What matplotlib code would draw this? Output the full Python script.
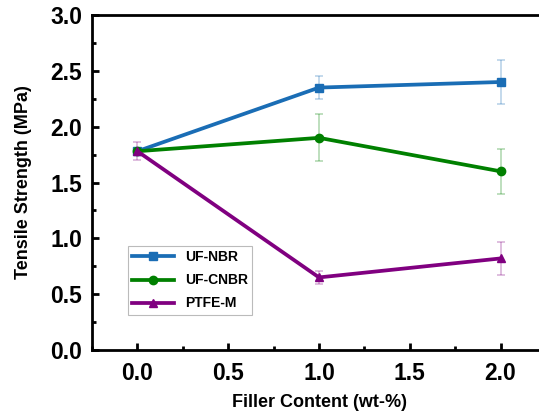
import numpy as np
import matplotlib.pyplot as plt
from matplotlib.ticker import MultipleLocator

plt.rcParams['font.family'] = ['Liberation Sans', 'DejaVu Sans']
plt.rcParams['font.weight'] = 'bold'

# Data
filler = [0.0, 1.0, 2.0]
uf_nbr = [1.78, 2.35, 2.40]
uf_nbr_err = [0.0, 0.10, 0.20]
uf_cnbr = [1.78, 1.90, 1.60]
uf_cnbr_err = [0.0, 0.21, 0.20]
ptfe_m = [1.78, 0.65, 0.82]
ptfe_m_err = [0.08, 0.06, 0.15]

fig = plt.figure(figsize=(5.39, 4.16), dpi=100)
# right spine sits just past the image edge in the reference
ax = fig.add_axes([92/539, 66/416, 454/539, 335/416])

series = [
    (uf_nbr, uf_nbr_err, '#1a6db5', 's', 'UF-NBR'),
    (uf_cnbr, uf_cnbr_err, '#008000', 'o', 'UF-CNBR'),
    (ptfe_m, ptfe_m_err, '#800080', '^', 'PTFE-M'),
]
for y, err, c, m, lab in series:
    ax.errorbar(filler, y, yerr=err, fmt='none', ecolor=c, alpha=0.3,
                elinewidth=1.2, capsize=3, capthick=1.2)
    ax.plot(filler, y, color=c, marker=m, markersize=6, linewidth=2.7, label=lab)

ax.set_xlim(-0.25, 2.25)
ax.set_ylim(0, 3.0)
ax.xaxis.set_major_locator(MultipleLocator(0.5))
ax.xaxis.set_minor_locator(MultipleLocator(0.25))
ax.yaxis.set_major_locator(MultipleLocator(0.5))
ax.yaxis.set_minor_locator(MultipleLocator(0.25))
ax.tick_params(which='both', direction='in', width=2, labelsize=16.5)
ax.tick_params(which='major', length=5)
ax.tick_params(which='minor', length=3)
ax.tick_params(axis='x', pad=9)
ax.tick_params(axis='y', pad=7)
for s in ax.spines.values():
    s.set_linewidth(2)
ax.spines['right'].set_visible(False)

ax.set_xlabel('Filler Content (wt-%)', fontsize=13, fontweight='bold', labelpad=6)
ax.set_ylabel('Tensile Strength (MPa)', fontsize=13, fontweight='bold', labelpad=13)

leg = ax.legend(loc='lower left', bbox_to_anchor=(0.064, 0.085), fontsize=10,
                frameon=True, fancybox=False, edgecolor='#aaaaaa',
                handlelength=3.0, borderpad=0.3, labelspacing=0.65)
leg.get_frame().set_linewidth(0.8)

fig.savefig('out.png', dpi=100)
